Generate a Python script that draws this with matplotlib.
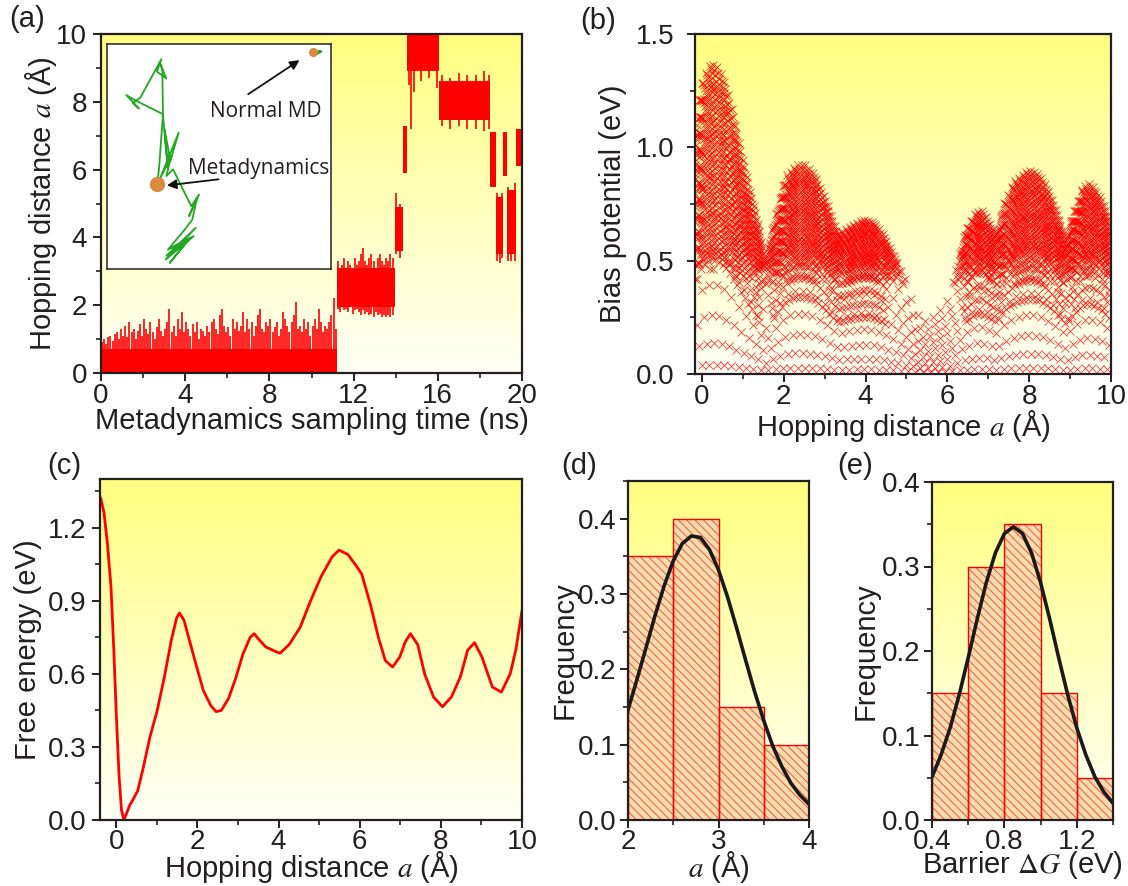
import numpy as np
import matplotlib
matplotlib.use("Agg")
import matplotlib.pyplot as plt
from matplotlib.colors import LinearSegmentedColormap
from matplotlib.ticker import MultipleLocator, FormatStrFormatter

plt.rcParams['font.family'] = ['Liberation Sans', 'DejaVu Sans']
plt.rcParams['mathtext.fontset'] = 'stix'
plt.rcParams['hatch.linewidth'] = 0.8

# ---------------- data ----------------
# (a) time series, drawn as bands plus individual excursions
band_start = [0.0, 11.2, 13.95, 14.35, 14.55, 16.05, 18.5, 18.75, 19.1, 19.3, 19.7]
band_end = [11.2, 13.95, 14.35, 14.55, 16.05, 18.5, 18.75, 19.1, 19.3, 19.7, 20.0]
band_lo = [0.0, 1.95, 3.6, 5.9, 8.9, 7.45, 5.5, 3.5, 5.8, 3.5, 6.1]
band_hi = [0.7, 3.1, 4.9, 7.3, 10.0, 8.6, 7.1, 5.2, 7.1, 5.4, 7.2]
seg1_t = np.round(np.arange(0.05, 11.2, 0.1), 2)
seg1_h = [0.9, 1.0, 0.85, 1.05, 1.1, 0.95, 1.15, 1.2, 1.0, 1.3,
          1.1, 1.4, 1.05, 1.5, 1.2, 1.3, 1.0, 1.25, 1.45, 1.1,
          1.6, 1.3, 1.15, 1.5, 1.2, 1.0, 1.35, 1.6, 1.25, 1.1,
          1.3, 1.5, 1.9, 1.2, 1.4, 1.1, 1.6, 1.3, 1.8, 1.2,
          1.5, 1.3, 1.1, 1.45, 1.2, 1.5, 1.0, 1.3, 1.25, 1.1,
          1.4, 1.2, 1.5, 1.6, 1.3, 1.15, 1.7, 1.9, 1.4, 1.2,
          1.35, 1.1, 1.6, 1.3, 1.5, 1.25, 1.4, 1.8, 1.2, 1.6,
          1.3, 1.5, 1.1, 1.4, 1.7, 1.9, 1.3, 1.2, 1.5, 1.4,
          1.6, 1.2, 1.35, 1.5, 1.1, 1.3, 1.8, 1.6, 1.4, 1.2,
          1.5, 1.7, 2.1, 1.3, 1.4, 1.2, 1.6, 1.3, 1.5, 1.1,
          1.4, 1.6, 1.3, 1.9, 1.5, 1.2, 1.4, 1.3, 1.5, 1.7,
          2.2, 1.3]
seg2_t = np.round(np.arange(11.25, 13.95, 0.1), 2)
seg2_lo = [1.9, 1.8, 2.0, 1.85, 1.9, 1.8, 1.95, 1.75, 1.85, 1.9, 1.8, 1.7, 1.85, 1.75,
           1.8, 1.7, 1.75, 1.65, 1.8, 1.7, 1.75, 1.65, 1.7, 1.65, 1.7, 1.65, 1.7]
seg2_hi = [3.3, 3.1, 3.2, 3.4, 3.0, 3.3, 3.2, 3.1, 3.4, 3.2, 3.3, 3.5, 3.7, 3.3,
           3.2, 3.4, 3.5, 3.3, 3.1, 3.4, 3.5, 3.3, 3.2, 3.4, 3.3, 3.5, 3.4]
high_t = [14.0, 14.2, 14.65, 14.75, 14.85, 15.2, 15.6, 15.95, 16.2, 16.6, 17.0, 17.4, 17.8, 18.2, 18.45,
          18.8, 18.95, 19.05, 19.35, 19.5, 19.65]
high_lo = [3.5, 3.4, 8.5, 7.2, 8.3, 8.6, 8.7, 8.4, 7.3, 7.2, 7.3, 7.2, 7.2, 7.15, 7.2,
           3.3, 3.25, 3.4, 3.3, 3.3, 3.3]
high_hi = [5.3, 5.0, 10.0, 10.0, 10.0, 10.0, 10.0, 10.0, 8.8, 8.7, 8.85, 8.8, 8.8, 8.9, 8.8,
           5.3, 5.0, 5.3, 5.5, 5.4, 5.6]

# (a) inset trajectory (inset-normalised)
traj_x = [0.223, 0.232, 0.250, 0.131, 0.086, 0.143, 0.116, 0.149, 0.243, 0.223, 0.265, 0.235, 0.247,
          0.250, 0.262, 0.272, 0.257, 0.283, 0.320, 0.232, 0.287, 0.265, 0.295, 0.376, 0.411, 0.366,
          0.402, 0.381, 0.347, 0.272, 0.387, 0.262, 0.396, 0.265, 0.357, 0.280, 0.372, 0.287]
traj_y = [0.376, 0.443, 0.688, 0.747, 0.773, 0.713, 0.737, 0.762, 0.933, 0.877, 0.847, 0.918, 0.889,
          0.688, 0.547, 0.443, 0.621, 0.480, 0.606, 0.391, 0.502, 0.413, 0.443, 0.279, 0.331, 0.235,
          0.316, 0.220, 0.175, 0.086, 0.146, 0.042, 0.183, 0.059, 0.123, 0.027, 0.138, 0.094]
md_x = [0.920, 0.952, 0.935, 0.957]
md_y = [0.963, 0.970, 0.955, 0.966]

# (b) bias potential: upper envelope of the cloud
bias_a = [-0.17, -0.09, 0.04, 0.22, 0.39, 0.57, 0.74, 0.92, 1.09, 1.27, 1.44, 1.57, 1.70, 1.88, 2.05,
          2.31, 2.53, 2.75, 2.97, 3.19, 3.32, 3.45, 3.71, 3.97, 4.19, 4.41, 4.67, 4.93, 5.15, 5.33,
          5.50, 5.63, 5.90, 6.07, 6.24, 6.42, 6.68, 6.86, 7.03, 7.21, 7.38, 7.64, 7.99, 8.25, 8.52,
          8.73, 8.91, 9.04, 9.30, 9.48, 9.74, 10.0]
bias_top = [1.05, 1.2, 1.31, 1.37, 1.35, 1.28, 1.16, 1.01, 0.87, 0.74, 0.59, 0.50, 0.62, 0.76, 0.87,
            0.92, 0.92, 0.88, 0.79, 0.68, 0.62, 0.63, 0.66, 0.68, 0.67, 0.62, 0.53, 0.43, 0.34, 0.26,
            0.25, 0.27, 0.32, 0.37, 0.47, 0.62, 0.71, 0.72, 0.66, 0.62, 0.75, 0.85, 0.90, 0.88, 0.79,
            0.68, 0.59, 0.69, 0.82, 0.84, 0.78, 0.65]
bias_dense_levels = np.round(np.arange(1.0, 0.33, -0.015), 3)
bias_sparse_levels = [0.92, 0.78, 0.64, 0.52, 0.40, 0.29, 0.19, 0.10, 0.03]

# (c) free energy
fe_a = [-0.38, -0.30, -0.22, -0.13, -0.06, 0.00, 0.07, 0.13, 0.19, 0.26, 0.33, 0.40, 0.53, 0.66, 0.83,
        1.01, 1.19, 1.36, 1.49, 1.56, 1.67, 1.80, 1.98, 2.15, 2.33, 2.46, 2.59, 2.77, 2.94, 3.12,
        3.30, 3.40, 3.52, 3.69, 3.82, 3.95, 4.04, 4.26, 4.53, 4.79, 5.05, 5.32, 5.49, 5.71, 5.93,
        6.05, 6.28, 6.46, 6.63, 6.81, 6.99, 7.12, 7.25, 7.43, 7.60, 7.82, 8.04, 8.26, 8.48, 8.66,
        8.83, 9.01, 9.27, 9.49, 9.71, 9.85, 10.0]
fe_g = [1.32, 1.26, 1.14, 0.96, 0.70, 0.44, 0.18, 0.04, 0.0, 0.03, 0.06, 0.08, 0.12, 0.21, 0.34,
        0.45, 0.59, 0.74, 0.83, 0.85, 0.82, 0.74, 0.63, 0.53, 0.47, 0.445, 0.45, 0.50, 0.58, 0.68,
        0.75, 0.765, 0.74, 0.71, 0.70, 0.69, 0.685, 0.72, 0.79, 0.90, 1.00, 1.08, 1.108, 1.09, 1.04,
        1.01, 0.875, 0.75, 0.655, 0.628, 0.67, 0.73, 0.765, 0.72, 0.60, 0.505, 0.465, 0.505, 0.587, 0.697,
        0.728, 0.67, 0.546, 0.525, 0.60, 0.70, 0.86]

# (d) histogram of hopping distance
d_edges = [2.0, 2.5, 3.0, 3.5, 4.0]
d_freq = [0.35, 0.40, 0.15, 0.10]
d_fit_x = [2.0, 2.1, 2.2, 2.3, 2.4, 2.5, 2.6, 2.7, 2.8, 2.9, 3.0, 3.1, 3.2, 3.3, 3.4, 3.5, 3.6, 3.7, 3.8, 3.9, 4.0]
d_fit_y = [0.146, 0.187, 0.229, 0.272, 0.311, 0.344, 0.367, 0.377, 0.375, 0.359, 0.332, 0.296, 0.255,
           0.212, 0.170, 0.132, 0.098, 0.071, 0.049, 0.033, 0.021]

# (e) histogram of barrier
e_edges = [0.4, 0.6, 0.8, 1.0, 1.2, 1.4]
e_freq = [0.15, 0.30, 0.35, 0.15, 0.05]
e_fit_x = [0.40, 0.45, 0.50, 0.55, 0.60, 0.65, 0.70, 0.75, 0.80, 0.85, 0.90, 0.95, 1.00, 1.05, 1.10,
           1.15, 1.20, 1.25, 1.30, 1.35, 1.40]
e_fit_y = [0.051, 0.077, 0.109, 0.148, 0.192, 0.238, 0.281, 0.316, 0.339, 0.347, 0.339, 0.316, 0.281,
           0.238, 0.192, 0.148, 0.109, 0.077, 0.051, 0.033, 0.020]

# ---------------- figure ----------------
W, H = 1128, 886
fig = plt.figure(figsize=(W / 100, H / 100), dpi=100)


def box(l, t, r, b):
    return [l / W, 1 - b / H, (r - l) / W, (b - t) / H]


cmap_bg = LinearSegmentedColormap.from_list('yw', ['#fffff6', '#ffff80'])
SPINE = '#231f20'
TICKFS = 20
LABFS = 21


def style(ax, ypad, xpad=1.5):
    ax.imshow(np.linspace(0, 1, 256).reshape(-1, 1), cmap=cmap_bg, origin='lower',
              extent=[0, 1, 0, 1], transform=ax.transAxes, aspect='auto', zorder=-10,
              interpolation='bicubic')
    for s in ax.spines.values():
        s.set_linewidth(1.6)
        s.set_color(SPINE)
        s.set_zorder(20)
    ax.tick_params(which='both', direction='out', top=False, right=False, color=SPINE,
                   labelsize=TICKFS, labelcolor=SPINE)
    ax.tick_params(axis='x', pad=xpad)
    ax.tick_params(axis='y', pad=ypad)
    ax.tick_params(which='major', length=6, width=1.4)
    ax.tick_params(which='minor', length=3.5, width=1.2)


def set_ylab(ax, text, center_px, left_px, width_px):
    ax.set_ylabel(text, fontsize=LABFS, color=SPINE)
    ax.yaxis.label.set_verticalalignment('center')
    ax.yaxis.set_label_coords((center_px - left_px) / width_px, 0.5)


# ---- (a) ----
axa = fig.add_axes(box(101, 34, 522, 373))
style(axa, 4)
for s0, s1, lo, hi in zip(band_start, band_end, band_lo, band_hi):
    axa.fill_between([s0, s1], [lo, lo], [hi, hi], color='red', lw=0, zorder=2)
axa.vlines(seg1_t, 0, seg1_h, color='red', lw=1.2, zorder=2)
axa.vlines(seg2_t, seg2_lo, seg2_hi, color='red', lw=1.2, zorder=2)
axa.vlines(high_t, high_lo, high_hi, color='red', lw=1.2, zorder=2)
axa.set_xlim(0, 20)
axa.set_ylim(0, 10)
axa.xaxis.set_major_locator(MultipleLocator(4))
axa.xaxis.set_minor_locator(MultipleLocator(2))
axa.yaxis.set_major_locator(MultipleLocator(2))
axa.yaxis.set_minor_locator(MultipleLocator(1))
axa.set_xlabel('Metadynamics sampling time (ns)', fontsize=LABFS, labelpad=-2, color=SPINE)
set_ylab(axa, 'Hopping distance $a$ (Å)', 41, 101, 421)

# inset
axi = fig.add_axes(box(107, 44, 331, 269))
axi.set_facecolor('white')
axi.set_xlim(0, 1)
axi.set_ylim(0, 1)
axi.set_xticks([])
axi.set_yticks([])
for s in axi.spines.values():
    s.set_linewidth(1.2)
    s.set_color('#333333')
axi.plot(traj_x, traj_y, color='#22a822', lw=1.3, zorder=2)
axi.plot(md_x, md_y, color='#22a822', lw=1.3, zorder=2)
axi.plot([traj_x[0]], [traj_y[0]], 'o', color='#d98a3d', ms=10, zorder=3)
axi.plot([md_x[0]], [md_y[0]], 'o', color='#d98a3d', ms=5.5, zorder=3)
axi.annotate('', xy=(0.87, 0.935), xytext=(0.62, 0.77),
             arrowprops=dict(arrowstyle='-|>', color='#111111', lw=1.3, mutation_scale=14))
axi.text(0.71, 0.70, 'Normal MD', fontsize=15, family=['Open Sans', 'DejaVu Sans'],
         ha='center', va='center', color='#231f20')
axi.annotate('', xy=(0.255, 0.37), xytext=(0.51, 0.40),
             arrowprops=dict(arrowstyle='-|>', color='#111111', lw=1.3, mutation_scale=14))
axi.text(0.675, 0.445, 'Metadynamics', fontsize=15, family=['Open Sans', 'DejaVu Sans'],
         ha='center', va='center', color='#231f20')

# ---- (b) ----
axb = fig.add_axes(box(695, 34, 1111, 374))
style(axb, 9)
px, py = [], []
for k, f in enumerate(bias_dense_levels):
    step = 0.09
    xs = np.arange(-0.17 + (k % 4) * step / 4, 10.0, step)
    top = np.interp(xs, bias_a, bias_top)
    ys = f * top
    thr = 0.40 + 0.12 * ((k * 3) % 5) / 4
    keep = (ys >= thr) | ((k % 6 == 0) & (top >= 0.6))
    px.append(xs[keep])
    py.append(ys[keep])
for k, f in enumerate(bias_sparse_levels):
    step = 0.18
    xs = np.arange(-0.12 + (k % 3) * step / 3, 10.0, step)
    ys = f * np.interp(xs, bias_a, bias_top)
    px.append(xs)
    py.append(ys)
px = np.concatenate(px)
py = np.concatenate(py)
axb.plot(px, py, 'x', color='red', ms=6, mew=0.55, alpha=0.85, zorder=2)
axb.set_xlim(-0.17, 10)
axb.set_ylim(0, 1.5)
axb.xaxis.set_major_locator(MultipleLocator(2))
axb.xaxis.set_minor_locator(MultipleLocator(1))
axb.yaxis.set_major_locator(MultipleLocator(0.5))
axb.yaxis.set_minor_locator(MultipleLocator(0.25))
axb.yaxis.set_major_formatter(FormatStrFormatter('%.1f'))
axb.set_xlabel('Hopping distance $a$ (Å)', fontsize=LABFS, labelpad=-2, color=SPINE)
set_ylab(axb, 'Bias potential (eV)', 613, 695, 416)

# ---- (c) ----
axc = fig.add_axes(box(100, 479, 522, 820))
style(axc, 4, xpad=0.5)
axc.plot(fe_a, fe_g, color='red', lw=2.0, zorder=3, solid_joinstyle='round')
axc.set_xlim(-0.4, 10)
axc.set_ylim(0, 1.4)
axc.xaxis.set_major_locator(MultipleLocator(2))
axc.xaxis.set_minor_locator(MultipleLocator(1))
axc.yaxis.set_major_locator(MultipleLocator(0.3))
axc.yaxis.set_minor_locator(MultipleLocator(0.15))
axc.yaxis.set_major_formatter(FormatStrFormatter('%.1f'))
axc.set_xlabel('Hopping distance $a$ (Å)', fontsize=LABFS, labelpad=-4, color=SPINE)
set_ylab(axc, 'Free energy (eV)', 28, 100, 422)


def hist(ax, edges, freq, fx, fy):
    lefts = edges[:-1]
    widths = np.diff(edges)
    ax.bar(lefts, freq, width=widths, align='edge', facecolor='#ffdcae', edgecolor='#f0674c',
           hatch='\\\\\\\\', lw=0, zorder=2)
    ax.bar(lefts, freq, width=widths, align='edge', facecolor='none', edgecolor='red',
           lw=1.0, zorder=3)
    ax.plot(fx, fy, color='#1a1a1a', lw=2.6, zorder=4)


# ---- (d) ----
axd = fig.add_axes(box(628, 481, 809, 820))
style(axd, 2.5, xpad=0.5)
hist(axd, d_edges, d_freq, d_fit_x, d_fit_y)
axd.set_xlim(2, 4)
axd.set_ylim(0, 0.45)
axd.xaxis.set_major_locator(MultipleLocator(1))
axd.xaxis.set_minor_locator(MultipleLocator(0.5))
axd.yaxis.set_major_locator(MultipleLocator(0.1))
axd.yaxis.set_minor_locator(MultipleLocator(0.05))
axd.yaxis.set_major_formatter(FormatStrFormatter('%.1f'))
axd.set_xlabel('$a$ (Å)', fontsize=LABFS, labelpad=-4, color=SPINE)
set_ylab(axd, 'Frequency', 565, 628, 181)

# ---- (e) ----
axe = fig.add_axes(box(932, 482, 1113, 820))
style(axe, 2.5, xpad=0.5)
hist(axe, e_edges, e_freq, e_fit_x, e_fit_y)
axe.set_xlim(0.4, 1.4)
axe.set_ylim(0, 0.4)
axe.xaxis.set_major_locator(MultipleLocator(0.4))
axe.xaxis.set_minor_locator(MultipleLocator(0.2))
axe.yaxis.set_major_locator(MultipleLocator(0.1))
axe.yaxis.set_minor_locator(MultipleLocator(0.05))
axe.yaxis.set_major_formatter(FormatStrFormatter('%.1f'))
axe.set_xlabel(r'Barrier $\Delta G$ (eV)', fontsize=LABFS, labelpad=-4, color=SPINE)
set_ylab(axe, 'Frequency', 866, 932, 181)

# panel letters
for txt, x, y in [('(a)', 27, 19), ('(b)', 598, 21), ('(c)', 64, 466), ('(d)', 579, 466), ('(e)', 855, 466)]:
    fig.text(x / W, 1 - y / H, txt, fontsize=LABFS, ha='center', va='center', color=SPINE)

fig.savefig('out.png', dpi=100)
